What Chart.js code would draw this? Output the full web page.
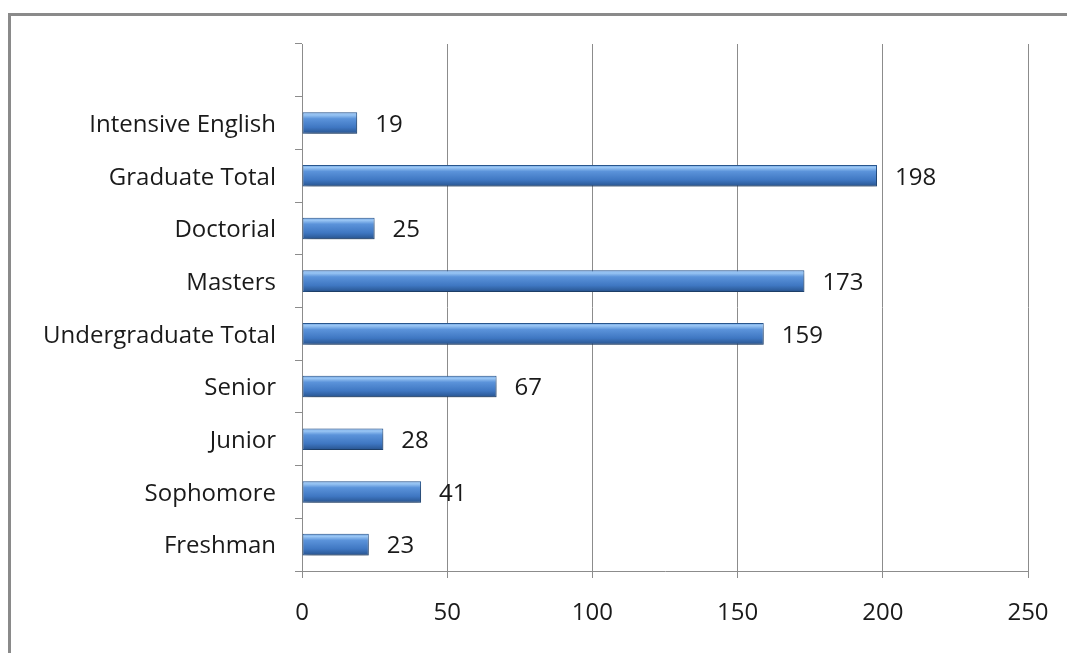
<!DOCTYPE html>
<html>
<head>
<meta charset="utf-8">
<script src="https://cdn.jsdelivr.net/npm/chart.js@4.4.1/dist/chart.umd.min.js"></script>
<style>
  html, body { margin: 0; padding: 0; background: #ffffff; overflow: hidden; }
  #wrap { position: relative; width: 1067px; height: 653px; }
  #frame { position: absolute; left: 8px; top: 13px; width: 2000px; height: 2000px;
           border-left: 3px solid #8a8a8a; border-top: 3px solid #8a8a8a; }
  canvas { position: absolute; left: 0; top: 0; }
</style>
</head>
<body>
<div id="wrap">
  <div id="frame"></div>
  <canvas id="c" width="1067" height="653"></canvas>
</div>
<script>
// Categories listed bottom to top as shown; reversed onto the axis below
const categories = ["Freshman", "Sophomore", "Junior", "Senior", "Undergraduate Total",
                    "Masters", "Doctorial", "Graduate Total", "Intensive English", ""];
const enrollment = [23, 41, 28, 67, 159, 173, 25, 198, 19, null];
const xTicks = [0, 50, 100, 150, 200, 250];

const FONT = "'Open Sans', Lato, sans-serif";
const FONT_SIZE = 24;
const GRID = '#8c8c8c';

function barGradient(ctx) {
  const chart = ctx.chart;
  const y = chart.scales.y;
  if (!y || ctx.dataIndex === undefined) return '#4a82cc';
  const cy = y.getPixelForValue(ctx.dataIndex);
  if (!isFinite(cy)) return '#4a82cc';
  const half = 10.8;
  const g = chart.ctx.createLinearGradient(0, cy - half, 0, cy + half);
  g.addColorStop(0, '#6fa4e4');
  g.addColorStop(0.12, '#9ac6f4');
  g.addColorStop(0.3, '#5b93da');
  g.addColorStop(0.7, '#3f77c2');
  g.addColorStop(0.9, '#2f5f9f');
  g.addColorStop(1, '#264f87');
  return g;
}

const shadowPlugin = {
  id: 'barShadow',
  beforeDatasetDraw(chart) {
    const c = chart.ctx;
    c.save();
    c.shadowColor = 'rgba(0,0,0,0.4)';
    c.shadowBlur = 8;
    c.shadowOffsetX = 2;
    c.shadowOffsetY = 4;
  },
  afterDatasetDraw(chart) {
    chart.ctx.restore();
  }
};

const valueLabels = {
  id: 'valueLabels',
  afterDatasetsDraw(chart) {
    const c = chart.ctx;
    const meta = chart.getDatasetMeta(0);
    c.save();
    c.font = FONT_SIZE + 'px ' + FONT;
    c.fillStyle = '#1a1a1a';
    c.textAlign = 'left';
    c.textBaseline = 'middle';
    meta.data.forEach((el, i) => {
      const v = chart.data.datasets[0].data[i];
      if (v === null || v === undefined) return;
      c.fillText(String(v), el.x + 18, el.y + 2);
    });
    c.restore();
  }
};

new Chart(document.getElementById('c'), {
  type: 'bar',
  data: {
    labels: categories.slice().reverse(),
    datasets: [{
      data: enrollment.slice().reverse(),
      backgroundColor: barGradient,
      borderColor: '#2a5a95',
      borderWidth: 1,
      borderSkipped: false,
      barPercentage: 0.41,
      categoryPercentage: 1.0
    }]
  },
  options: {
    indexAxis: 'y',
    responsive: false,
    animation: false,
    devicePixelRatio: 1,
    layout: { padding: { left: 0, top: 44, right: 39, bottom: 0 } },
    plugins: { legend: { display: false }, tooltip: { enabled: false } },
    scales: {
      x: {
        min: 0, max: 250,
        afterBuildTicks(scale) { scale.ticks = xTicks.map(v => ({ value: v })); },
        afterFit(scale) { scale.height = 82; scale.paddingLeft = 0; scale.paddingRight = 0; },
        grid: { color: GRID, lineWidth: 1, tickLength: 7, drawTicks: true },
        border: { color: GRID, width: 1 },
        ticks: { font: { family: FONT, size: FONT_SIZE }, color: '#1a1a1a', padding: 21, maxRotation: 0 }
      },
      y: {
        afterFit(scale) { scale.width = 302; scale.paddingTop = 0; scale.paddingBottom = 0; },
        grid: { drawOnChartArea: false, color: GRID, tickLength: 7, offset: true },
        border: { color: GRID, width: 1 },
        ticks: { font: { family: FONT, size: FONT_SIZE }, color: '#1a1a1a', padding: 19, autoSkip: false, labelOffset: 2 }
      }
    }
  },
  plugins: [shadowPlugin, valueLabels]
});
</script>
</body>
</html>
